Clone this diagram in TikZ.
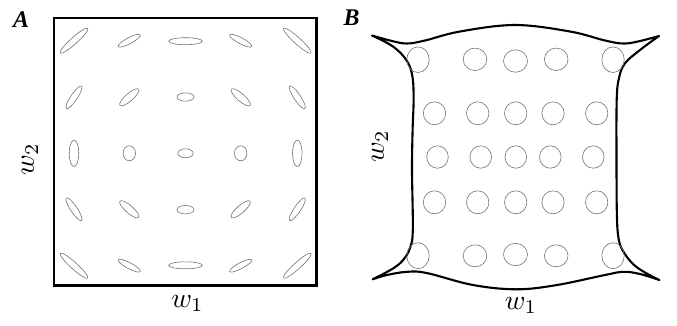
\documentclass[tikz,border=0pt]{standalone}
\usepackage{graphicx}
\usepackage{fontspec}
\newfontfamily\panfont{Liberation Serif}
\newcommand{\axtxt}[1]{\scalebox{2.8}{#1}}
\begin{document}
\begin{tikzpicture}[x=1bp,y=-1bp,
  frame/.style={draw=black,line width=2.7bp},
  rim/.style={draw=black,line width=2.1bp,line join=round},
  blob/.style={draw=black!55,line width=0.6bp},
  axlab/.style={inner sep=0pt},
  panlab/.style={inner sep=0pt,font=\panfont\fontsize{24}{28}\selectfont\bfseries\itshape}]
\useasboundingbox (0,0) rectangle (677,325);
% ---------- Panel A ----------
\node[panlab,anchor=base] (labA) at (21,27) {A};
\draw[frame] (54,18) rectangle (316.3,285.3);
\foreach \x/\y/\a/\rx/\ry in {
  74/40.7/42/18.5/3.3, 129.3/40.7/28/12.5/3, 185.5/41.2/0/16.8/3.5, 240.7/40.7/-28/12.5/3, 297.3/40.7/-42/18.5/3.3,
  74/97.3/56/13.6/3.3, 129.3/97.3/41/12.4/3.8, 185.5/97/0/8.5/4.2, 240.7/97.3/-41/12.4/3.8, 297.3/97.3/-56/13.6/3.3,
  74/153.3/0/4.8/13.2, 129.3/153.3/0/6.2/7.5, 185.5/153.3/0/7.7/4.5, 240.7/153.3/0/6.2/7.5, 297.3/153.3/0/4.8/13.2,
  74/209.3/-56/13.6/3.3, 129.3/209.3/-41/12.4/3.8, 185.5/209.7/0/8.5/4.2, 240.7/209.3/41/12.4/3.8, 297.3/209.3/56/13.6/3.3,
  74/265.7/-42/18.5/3.3, 129.3/265.7/-28/12.5/3, 185.5/265.3/0/16.8/3.5, 240.7/265.7/28/12.5/3, 297.3/265.7/42/18.5/3.3}
  \draw[blob,shift={(\x,\y)},rotate=\a] (0,0) ellipse [x radius=\rx, y radius=\ry];
\node[axlab,anchor=base] (w1A) at (187.5,307) {\axtxt{$w_1$}};
\node[axlab,rotate=90] (w2A) at (30,159.5) {\axtxt{$w_2$}};
% ---------- Panel B ----------
\node[panlab,anchor=base] (labB) at (351.5,25.5) {B};
\draw[rim]
  plot[smooth,tension=0.6] coordinates {(372,35.5) (392,41) (407,43.5) (425,40.5) (460,31.5) (515,25) (570,31.5) (605,40.5) (623,43.5) (638,41.5) (659,36)}
  -- plot[smooth,tension=0.6] coordinates {(659,36) (640,50) (625,63.3) (619,78) (616.7,100) (616.5,160) (616.9,215) (618.5,238) (623,251) (633,264) (645,272.5) (659.3,280)}
  -- plot[smooth,tension=0.6] coordinates {(659.3,280) (640,274) (623.3,271.8) (605,275) (557,285) (516.7,289.3) (473,285) (426.7,273) (407,271.8) (387,275) (372.7,279.3)}
  -- plot[smooth,tension=0.6] coordinates {(372.7,279.3) (393.3,268.3) (403.5,259.5) (410,248) (412.8,230) (412,170) (412.6,130) (413.6,100) (412.5,77) (407,61) (393.3,46.7) (372,35.5)}
  -- cycle;
\foreach \x/\y/\rx/\ry in {
  418/59.7/11.2/12.8, 475/59.3/11.8/11.2, 515.5/61/12/11.2, 556.2/59.3/11.8/11.2, 613/59.7/11.2/12.8,
  434.5/113.3/11.2/11.5, 477.7/113.3/11.2/11.5, 515.7/113.3/11.2/11.5, 553/113.3/11.2/11.5, 596.7/113.3/11.2/11.5,
  437.5/157/10.8/11.2, 480.7/157/10.8/11.2, 515.8/157/10.8/11.2, 550.3/157/10.8/11.2, 593.3/157/10.8/11.2,
  434.5/202.3/11.2/11.5, 477.7/202.3/11.2/11.5, 515.7/202.3/11.2/11.5, 553/202.3/11.2/11.5, 596.7/202.3/11.2/11.5,
  418/255.7/11.2/13, 475/255.8/11.8/11, 515.5/254.5/12/11.2, 556.2/255.8/11.8/11, 613/255.7/11.2/13}
  \draw[blob] (\x,\y) ellipse [x radius=\rx, y radius=\ry];
\node[axlab,anchor=base] (w1B) at (521,309) {\axtxt{$w_1$}};
\node[axlab,rotate=90] (w2B) at (380,146.7) {\axtxt{$w_2$}};
\end{tikzpicture}
\end{document}
